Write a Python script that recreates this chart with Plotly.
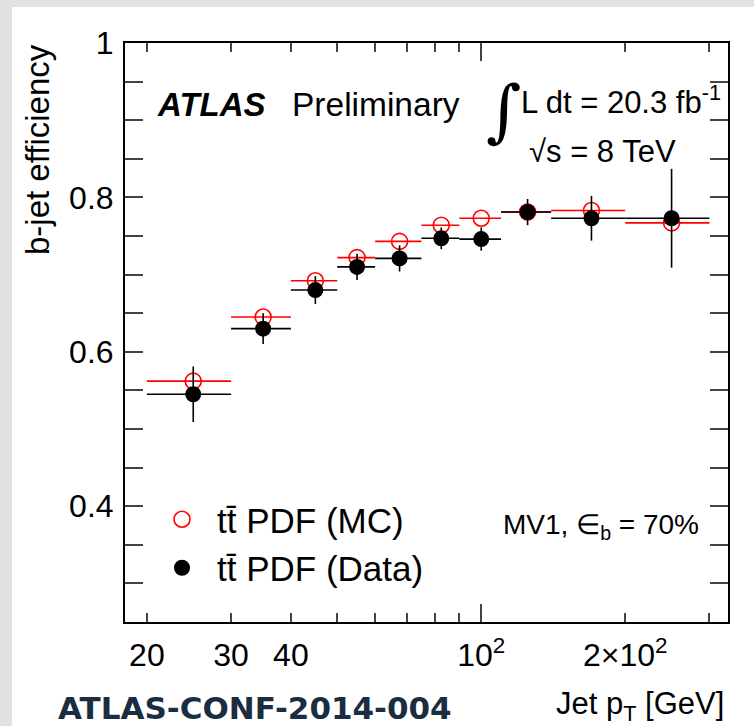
import numpy as np
import plotly.graph_objects as go

# ---- data ----
bin_lo = [20, 30, 40, 50, 60, 75, 90, 110, 140, 200]
bin_hi = [30, 40, 50, 60, 75, 90, 110, 140, 200, 300]
mc_eff = [0.562, 0.645, 0.692, 0.722, 0.743, 0.764, 0.773, 0.781, 0.783, 0.767]
data_eff = [0.545, 0.630, 0.680, 0.710, 0.721, 0.747, 0.746, 0.781, 0.773, 0.773]
data_err = [0.036, 0.020, 0.018, 0.017, 0.017, 0.014, 0.015, 0.017, 0.029, 0.064]

x_tickvals = [20, 30, 40, 100, 200]
x_ticktext = ["20", "30", "40", "10<sup>2</sup>", "2×10<sup>2</sup>"]
x_minor = [50, 60, 70, 80, 90, 300]
y_tickvals = [0.4, 0.6, 0.8, 1.0]
y_ticktext = ["0.4", "0.6", "0.8", "1"]
y_minor = [0.25, 0.3, 0.35, 0.45, 0.5, 0.55, 0.65, 0.7, 0.75, 0.85, 0.9, 0.95]

lo = np.array(bin_lo, float)
hi = np.array(bin_hi, float)
xc = (lo + hi) / 2.0

# ---- geometry (pixels) ----
WID, HEI = 754, 726
L, R, T, B = 125, 26, 43, 104
PW, PH = WID - L - R, HEI - T - B


def px(x):
    return (x - L) / PW


def py(y):
    return 1 - (y - T) / PH


FONT = "Liberation Sans, Arial, Helvetica, sans-serif"

fig = go.Figure()

fig.add_trace(go.Scatter(
    x=xc, y=mc_eff, mode="markers", name="tt̄ PDF (MC)",
    marker=dict(symbol="circle-open", size=16, color="#ff0000", line=dict(width=1.6, color="#ff0000")),
    error_x=dict(type="data", symmetric=False, array=hi - xc, arrayminus=xc - lo,
                 color="#ff0000", thickness=1.6, width=0),
    legendgroup="mc",
))
fig.add_trace(go.Scatter(
    x=xc, y=data_eff, mode="markers", name="tt̄ PDF (Data)",
    marker=dict(symbol="circle", size=16, color="black"),
    error_x=dict(type="data", symmetric=False, array=hi - xc, arrayminus=xc - lo,
                 color="black", thickness=1.6, width=0),
    error_y=dict(type="data", array=data_err, color="black", thickness=1.6, width=0),
    legendgroup="data",
))

# overlay axis for the long tick at 10^2
fig.add_trace(go.Scatter(x=[None], y=[None], xaxis="x2", showlegend=False, hoverinfo="skip"))

xrange = [np.log10(18), np.log10(328)]

fig.update_layout(
    width=WID, height=HEI,
    margin=dict(l=L, r=R, t=T, b=B, pad=0),
    paper_bgcolor="#e2e2e2",
    plot_bgcolor="white",
    font=dict(family=FONT, color="black", size=32),
    xaxis=dict(
        type="log", range=xrange,
        tickmode="array", tickvals=x_tickvals, ticktext=x_ticktext,
        ticks="inside", ticklen=9, tickwidth=1.5, tickcolor="#444",
        minor=dict(tickmode="array", tickvals=x_minor, ticks="inside", ticklen=9,
                   tickwidth=1.5, tickcolor="#444", showgrid=False),
        showline=True, linecolor="black", linewidth=2, mirror="allticks",
        showgrid=False, zeroline=False,
        tickfont=dict(size=32), ticklabelstandoff=4,
    ),
    xaxis2=dict(
        type="log", range=xrange, overlaying="x", side="bottom",
        tickmode="array", tickvals=[100], showticklabels=False,
        ticks="inside", ticklen=18, tickwidth=1.5, tickcolor="#444",
        showline=False, mirror="allticks", showgrid=False, zeroline=False,
    ),
    yaxis=dict(
        range=[0.25, 1.0],
        tickmode="array", tickvals=y_tickvals, ticktext=y_ticktext,
        ticks="inside", ticklen=18, tickwidth=1.5, tickcolor="#444",
        minor=dict(tickmode="array", tickvals=y_minor, ticks="inside", ticklen=10,
                   tickwidth=1.5, tickcolor="#444", showgrid=False),
        showline=True, linecolor="black", linewidth=2, mirror="allticks",
        showgrid=False, zeroline=False,
        tickfont=dict(size=32), ticklabelstandoff=3,
    ),
    legend=dict(
        x=px(147), y=py(490), xanchor="left", yanchor="top",
        bgcolor="rgba(0,0,0,0)", borderwidth=0,
        font=dict(size=35, family=FONT), itemwidth=60,
        traceorder="grouped", tracegroupgap=0,
    ),
    showlegend=True,
)

# white "slide" background
fig.add_shape(type="rect", xref="paper", yref="paper", layer="below",
              x0=px(12), x1=px(WID + 5), y0=py(7), y1=py(HEI + 5),
              fillcolor="white", line=dict(width=0))

ann = []


def text(x, y, s, size=32, xanchor="left", yanchor="middle", family=FONT, color="black", angle=0):
    ann.append(dict(x=x, y=y, xref="paper", yref="paper", text=s, showarrow=False,
                    xanchor=xanchor, yanchor=yanchor, textangle=angle,
                    font=dict(size=size, family=family, color=color)))


text(px(155), py(104), "<b><i>ATLAS</i></b>", size=33)
text(px(290), py(104), "Preliminary", size=33.5)
text(px(503), py(110), "∫", size=68, xanchor="center", family="DejaVu Serif")
text(px(519), py(100), "L dt = 20.3 fb<sup>-1</sup>", size=31)
text(px(527), py(151), "√s = 8 TeV", size=31)
text(px(501), py(526), "MV1, ∈<sub>b</sub> = 70%", size=28)
text(px(726), py(706), "Jet p<sub>T</sub> [GeV]", size=31, xanchor="right")
text(px(56), py(708), "<b>ATLAS-CONF-2014-004</b>", size=31,
     family="DejaVu Sans", color="#1b2d40")
text(px(37), py(150), "b-jet efficiency", size=33, xanchor="center", angle=-90)

fig.update_layout(annotations=ann)

fig.write_html("out.html")
